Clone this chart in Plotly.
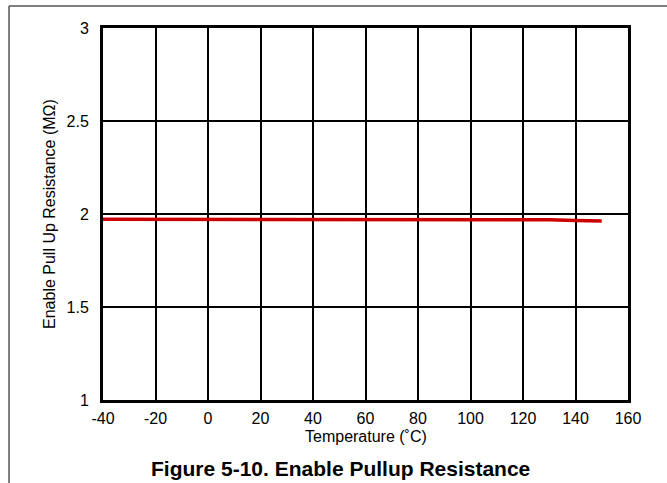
import plotly.graph_objects as go

temperature = [-40, -30, -20, -10, 0, 10, 20, 30, 40, 50, 60, 70, 80, 90, 100, 110, 120, 130, 140, 150]
resistance = [1.972, 1.972, 1.972, 1.972, 1.972, 1.972, 1.972, 1.972, 1.972, 1.972,
              1.972, 1.972, 1.972, 1.972, 1.972, 1.972, 1.971, 1.969, 1.965, 1.963]
x_ticks = [-40, -20, 0, 20, 40, 60, 80, 100, 120, 140, 160]
y_ticks = [1, 1.5, 2, 2.5, 3]
y_tick_labels = ["1", "1.5", "2", "2.5", "3"]

FONT = "Liberation Sans, Arial, sans-serif"

fig = go.Figure()
fig.add_trace(go.Scatter(x=temperature, y=resistance, mode="lines",
                         line=dict(color="#CC0000", width=3.5), showlegend=False,
                         hoverinfo="skip"))

fig.update_layout(
    width=667, height=483,
    margin=dict(l=103, r=39, t=28, b=83),
    paper_bgcolor="white", plot_bgcolor="white",
    font=dict(family=FONT, size=16, color="black"),
    xaxis=dict(range=[-40, 160], tickvals=x_ticks, ticktext=[str(v) for v in x_ticks],
               showgrid=True, gridcolor="black", gridwidth=1.8,
               showline=True, linecolor="black", linewidth=3, mirror=True,
               zeroline=False, ticks="outside", ticklen=2, tickcolor="rgba(0,0,0,0)"),
    yaxis=dict(range=[1, 3], tickvals=y_ticks, ticktext=y_tick_labels,
               showgrid=True, gridcolor="black", gridwidth=1.8,
               showline=True, linecolor="black", linewidth=3, mirror=True,
               zeroline=False, ticks="outside", ticklen=8, tickcolor="rgba(0,0,0,0)"),
)

# axis titles
fig.add_annotation(text="Temperature (˚C)", xref="paper", yref="paper",
                   x=0.5, y=-0.0968, xanchor="center", yanchor="middle", showarrow=False,
                   font=dict(family=FONT, size=16, color="black"))
fig.add_annotation(text="Enable Pull Up Resistance (MΩ)", xref="paper", yref="paper",
                   x=-0.1029, y=0.5, xanchor="center", yanchor="middle", showarrow=False,
                   textangle=-90, font=dict(family=FONT, size=16, color="black"))

# outer figure frame (top and left edges)
fig.add_shape(type="line", xref="paper", yref="paper", x0=-0.179, x1=1.08, y0=1.0591, y1=1.0591,
              line=dict(color="#555555", width=1.5))
fig.add_shape(type="line", xref="paper", yref="paper", x0=-0.179, x1=-0.179, y0=1.0591, y1=-0.25,
              line=dict(color="#555555", width=1.5))

fig.add_annotation(text="<b>Figure 5-10. Enable Pullup Resistance</b>", xref="paper", yref="paper",
                   x=0.4533, y=-0.183, xanchor="center", yanchor="middle", showarrow=False,
                   font=dict(family=FONT, size=21, color="black"))

fig.write_html("out.html", config={"displayModeBar": False},
               post_script="document.body.style.margin='0';document.body.style.overflow='hidden';")
